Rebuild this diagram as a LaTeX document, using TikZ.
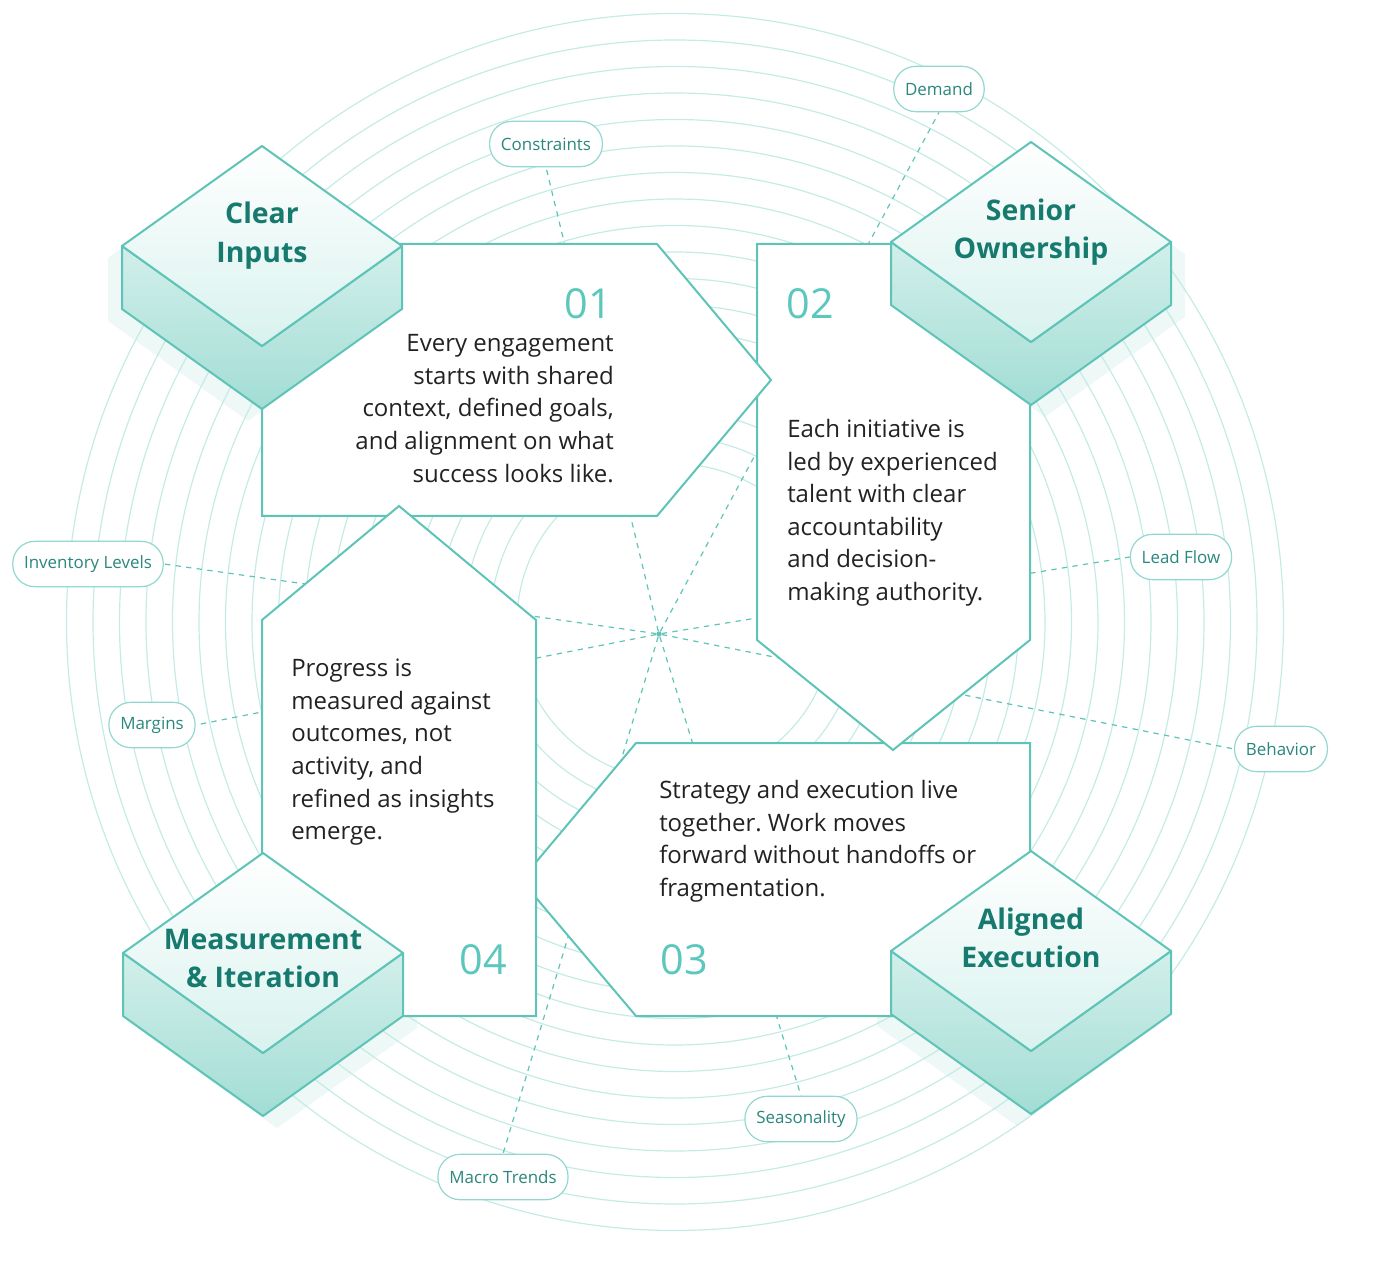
\documentclass[tikz,border=0pt]{standalone}
\usepackage{fontspec}
\setmainfont{Open Sans}
\usetikzlibrary{positioning}
\pgfdeclarelayer{bg}
\pgfsetlayers{bg,main}
\frenchspacing

\definecolor{tealline}{HTML}{5EC4B8}
\definecolor{tealdark}{HTML}{177A6F}
\definecolor{tealnum}{HTML}{5CC8BD}
\definecolor{ringc}{HTML}{C4EBE5}
\definecolor{pillline}{HTML}{93D8CF}
\definecolor{pilltext}{HTML}{2A877D}
\definecolor{bodytext}{HTML}{222222}
\definecolor{faceA}{HTML}{D8F2EE}
\definecolor{sideA}{HTML}{D2EFEA}
\definecolor{sideB}{HTML}{A2DDD5}
\definecolor{haze}{HTML}{EEF8F6}

\tikzset{
  ring/.style={draw=ringc, line width=0.9pt},
  ray/.style={draw=tealline, dash pattern=on 4pt off 4pt, line width=0.9pt},
  panel/.style={draw=tealline, fill=white, line width=1.5pt},
  blockline/.style={draw=tealline, line width=1.5pt, line join=round},
  pill/.style={draw=pillline, fill=white, line width=0.9pt, rounded corners=16.5pt,
    minimum height=34pt, inner xsep=8.5pt, text=pilltext, font=\fontsize{12.7}{14}\selectfont},
  head/.style={text=tealdark, align=center, inner sep=0pt,
    font=\bfseries\fontsize{21.3}{28.8}\selectfont},
  body/.style={text=bodytext, inner sep=0pt, font=\fontsize{18}{24.4}\selectfont},
  num/.style={text=tealnum, inner sep=0pt, font=\fontsize{31}{31}\selectfont},
}

% isometric block, centre of the top face at (#1,#2)
\newcommand\prism[2]{%
  \draw[blockline, top color=sideA, bottom color=sideB]
    ({#1-140},{#2}) -- ({#1},{#2+100}) -- ({#1+140},{#2}) -- ({#1+140},{#2+63})
    -- ({#1},{#2+163}) -- ({#1-140},{#2+63}) -- cycle;
  \draw[blockline, top color=white, bottom color=faceA]
    ({#1-140},{#2}) -- ({#1},{#2-100}) -- ({#1+140},{#2}) -- ({#1},{#2+100}) -- cycle;
}

\begin{document}
\begin{tikzpicture}[x=0.75pt, y=-0.75pt]
\useasboundingbox (0,0) rectangle (1379,1262);

% soft shadows and rings
\begin{pgfonlayer}{bg}
  \foreach \cx/\cy/\dx in {262/246/-14, 1031/242/14, 1031/951/-14, 263/953/14}
    \fill[haze] ({\cx-140+\dx},{\cy+12}) -- ({\cx+\dx},{\cy-88}) -- ({\cx+140+\dx},{\cy+12})
      -- ({\cx+140+\dx},{\cy+75}) -- ({\cx+\dx},{\cy+175}) -- ({\cx-140+\dx},{\cy+75}) -- cycle;
  \foreach \r in {0,...,17}
    \draw[ring] (675,622) circle[radius={158+26.5*\r}];
\end{pgfonlayer}

\node[circle, fill=tealline, inner sep=1.4pt] (hub) at (659,634) {};

% factors
\node[pill] (constraints) at (546,144) {Constraints};
\node[pill] (demand) at (939,89) {Demand};
\node[pill] (leadflow) at (1181,557) {Lead Flow};
\node[pill] (behavior) at (1281,749) {Behavior};
\node[pill] (season) at (801,1119) {Seasonality};
\node[pill] (macro) at (503,1177) {Macro Trends};
\node[pill] (margins) at (152,725) {Margins};
\node[pill] (inventory) at (88,564) {Inventory Levels};

\begin{pgfonlayer}{bg}
  \draw[ray] (hub) -- (constraints.south);
  \draw[ray] (hub) -- (demand.south);
  \draw[ray] (hub) -- (leadflow.west);
  \draw[ray] (hub) -- (behavior.west);
  \draw[ray] (hub) -- (season.north);
  \draw[ray] (hub) -- (macro.north);
  \draw[ray] (hub) -- (margins.east);
  \draw[ray] (hub) -- (inventory.east);
\end{pgfonlayer}

% panels
\draw[panel] (636,743) -- (1030,743) -- (1030,1016) -- (636,1016) -- (521,880) -- cycle;
\draw[panel] (757,244) -- (1030,244) -- (1030,640) -- (893,750) -- (757,640) -- cycle;
\draw[panel] (262,244) -- (657,244) -- (771,380) -- (657,516) -- (262,516) -- cycle;
\draw[panel] (399,506) -- (536,620) -- (536,1016) -- (262,1016) -- (262,620) -- cycle;

\node[num] (n01) at (588,304) {01};
\node[num] (n02) at (810,304) {02};
\node[num] (n03) at (684,960) {03};
\node[num] (n04) at (483,960) {04};

\node[body, align=right, anchor=north east] (txt01) at (614,334.5)
  {Every engagement\\starts with shared\\context, defined goals,\\and alignment on what\\success looks like.};
\node[body, align=left, anchor=north west] (txt02) at (787,419)
  {Each initiative is\\led by experienced\\talent with clear\\accountability\\and decision-\\making authority.};
\node[body, align=left, anchor=north west] (txt03) at (659,780)
  {Strategy and execution live\\together. Work moves\\forward without handoffs or\\fragmentation.};
\node[body, align=left, anchor=north west] (txt04) at (291,659)
  {Progress is\\measured against\\outcomes, not\\activity, and\\refined as insights\\emerge.};

% blocks
\prism{262}{246}
\prism{1031}{242}
\prism{1031}{951}
\prism{263}{953}

\node[head] (inputs) at (262,235.5) {Clear\\Inputs};
\node[head] (owner) at (1031,232) {Senior\\Ownership};
\node[head] (exec) at (1031,938) {Aligned\\Execution};
\node[head] (measure) at (263,958.5) {Measurement\\\& Iteration};
\end{tikzpicture}
\end{document}
